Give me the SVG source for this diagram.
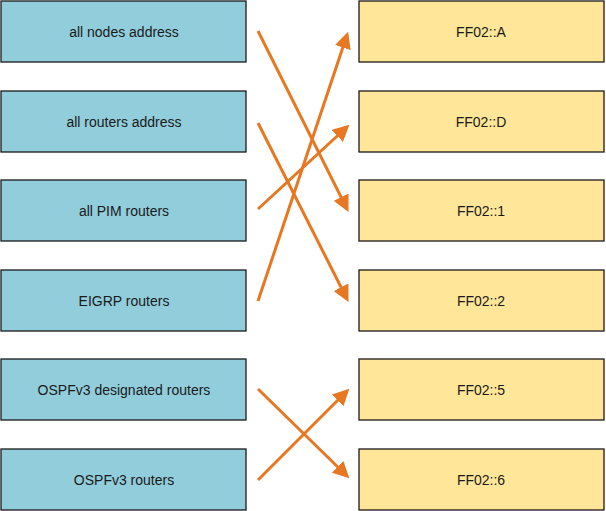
<svg xmlns="http://www.w3.org/2000/svg" width="606" height="511" viewBox="0 0 606 511">
<defs>
<style>
.l{fill:#92CDDC;stroke:#1a1a1a;stroke-width:1.3}
.r{fill:#FFE699;stroke:#1a1a1a;stroke-width:1.3}
text{font-family:"Liberation Sans",Arial,sans-serif;font-size:14px;fill:#1a1a1a;text-anchor:middle;dominant-baseline:central}
.c{stroke:#E87722;stroke-width:3;fill:none;marker-end:url(#ah)}
</style>
<marker id="ah" viewBox="0 0 10 10" refX="8" refY="5" markerWidth="5.5" markerHeight="5.5" markerUnits="strokeWidth" orient="auto">
<path d="M0,0 L10,5 L0,10 z" fill="#E87722"/>
</marker>
</defs>
<rect width="606" height="511" fill="#fff"/>
<g id="n1"><rect class="l" x="1" y="1" width="245" height="61"/><text x="124" y="32">all nodes address</text></g>
<g id="n2"><rect class="l" x="1" y="91" width="245" height="61"/><text x="124" y="122">all routers address</text></g>
<g id="n3"><rect class="l" x="1" y="180" width="245" height="61"/><text x="124" y="211">all PIM routers</text></g>
<g id="n4"><rect class="l" x="1" y="270" width="245" height="61"/><text x="124" y="301">EIGRP routers</text></g>
<g id="n5"><rect class="l" x="1" y="359" width="245" height="61"/><text x="124" y="390">OSPFv3 designated routers</text></g>
<g id="n6"><rect class="l" x="1" y="449" width="245" height="61"/><text x="124" y="480">OSPFv3 routers</text></g>
<g id="m1"><rect class="r" x="359" y="1" width="245" height="61"/><text x="481" y="32">FF02::A</text></g>
<g id="m2"><rect class="r" x="359" y="91" width="245" height="61"/><text x="481" y="122">FF02::D</text></g>
<g id="m3"><rect class="r" x="359" y="180" width="245" height="61"/><text x="481" y="211">FF02::1</text></g>
<g id="m4"><rect class="r" x="359" y="270" width="245" height="61"/><text x="481" y="301">FF02::2</text></g>
<g id="m5"><rect class="r" x="359" y="359" width="245" height="61"/><text x="481" y="390">FF02::5</text></g>
<g id="m6"><rect class="r" x="359" y="449" width="245" height="61"/><text x="481" y="480">FF02::6</text></g>
<g id="connectors">
<line class="c" x1="258" y1="31" x2="347" y2="209"/>
<line class="c" x1="258" y1="123" x2="347" y2="299"/>
<line class="c" x1="258" y1="209" x2="347" y2="127"/>
<line class="c" x1="258" y1="301" x2="347" y2="35"/>
<line class="c" x1="258" y1="389" x2="347" y2="476"/>
<line class="c" x1="258" y1="480" x2="347" y2="391"/>
</g>
</svg>
